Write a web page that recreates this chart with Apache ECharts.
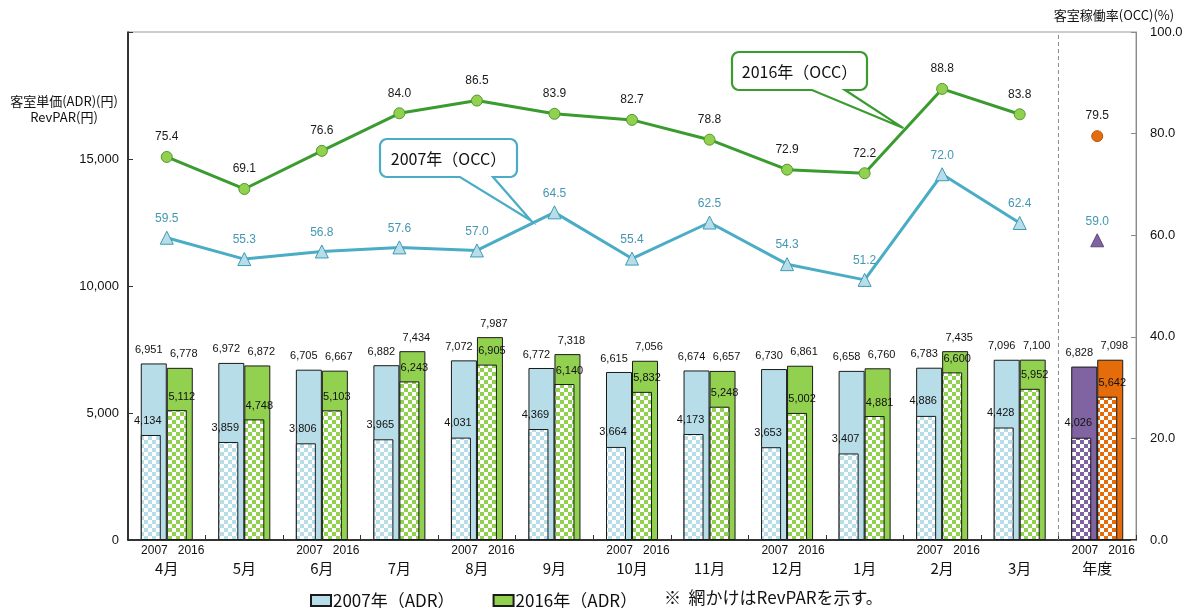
<!DOCTYPE html>
<html>
<head>
<meta charset="utf-8">
<script src="https://cdn.jsdelivr.net/npm/echarts@6/dist/echarts.min.js"></script>
<style>
  html, body { margin: 0; padding: 0; background: #fff; }
  #chart { width: 1190px; height: 608px; }
</style>
</head>
<body>
<div id="chart"></div>
<script>
// Months of the fiscal year plus the annual total
const categories = ['4月','5月','6月','7月','8月','9月','10月','11月','12月','1月','2月','3月','年度'];
// Categories that carry the small "2007 2016" tag under the bars
const yearTagged = [true,false,true,false,true,false,true,false,true,false,true,false,true];

// Average daily rate (yen)
const adr2007 = [6951, 6972, 6705, 6882, 7072, 6772, 6615, 6674, 6730, 6658, 6783, 7096, 6828];
const adr2016 = [6778, 6872, 6667, 7434, 7987, 7318, 7056, 6657, 6861, 6760, 7435, 7100, 7098];
// Revenue per available room (yen)
const revpar2007 = [4134, 3859, 3806, 3965, 4031, 4369, 3664, 4173, 3653, 3407, 4886, 4428, 4026];
const revpar2016 = [5112, 4748, 5103, 6243, 6905, 6140, 5832, 5248, 5002, 4881, 6600, 5952, 5642];
// Occupancy rate (%) by month, and for the whole year
const occ2007 = [59.5, 55.3, 56.8, 57.6, 57.0, 64.5, 55.4, 62.5, 54.3, 51.2, 72.0, 62.4];
const occ2016 = [75.4, 69.1, 76.6, 84.0, 86.5, 83.9, 82.7, 78.8, 72.9, 72.2, 88.8, 83.8];
const occ2007Year = 59.0;
const occ2016Year = 79.5;

const NUM_FONT = "'Liberation Sans', Arial, sans-serif";
const JP_FONT = "'Noto Sans CJK JP', 'Noto Sans', sans-serif";

const C = {
  blue: '#b7dde8', green: '#92d050', purple: '#8064a2', orange: '#e46c0a',
  line07: '#4bacc6', line16: '#3a9b2e', text07: '#4597b3', border: '#1a1a1a'
};

// Checkerboard fill used for RevPAR bars
function checker(color) {
  const c = document.createElement('canvas');
  c.width = 8; c.height = 8;
  const g = c.getContext('2d');
  g.fillStyle = '#ffffff'; g.fillRect(0, 0, 8, 8);
  g.fillStyle = color; g.fillRect(0, 0, 4, 4); g.fillRect(4, 4, 4, 4);
  return { image: c, repeat: 'repeat' };
}

const fmtYen = v => Number(v).toLocaleString('en-US');
const last = categories.length - 1;

function withYearColor(arr, yearColor, pattern) {
  return arr.map((v, i) => i === last
    ? { value: v, itemStyle: { color: pattern ? checker(yearColor) : yearColor } }
    : v);
}

const barLabel = (dx, dist) => ({
  show: true, position: 'top', distance: dist, offset: [dx, 0],
  fontFamily: NUM_FONT, fontSize: 11, color: '#111', formatter: p => fmtYen(p.value)
});

const monthsOnly = arr => arr.concat(['-']);

const chart = echarts.init(document.getElementById('chart'), null, { renderer: 'canvas' });

chart.setOption({
  animation: false,
  backgroundColor: '#ffffff',
  grid: [
    { left: 128, right: 54, top: 32, bottom: 68, show: true, borderColor: '#9a9a9a', borderWidth: 1 },
    { left: 125, right: 57, top: 32, bottom: 68 }
  ],
  legend: {
    data: ['2007年（ADR）', '2016年（ADR）'],
    left: 305, top: 587, itemWidth: 20, itemHeight: 11, itemGap: 38,
    icon: 'rect',
    textStyle: { fontFamily: JP_FONT, fontSize: 17, color: '#111', padding: [0, 0, 0, -3] }
  },
  xAxis: [
    {
      type: 'category', gridIndex: 0, data: categories,
      axisLine: { lineStyle: { color: '#000', width: 1.5 } },
      axisTick: { show: true, inside: true, length: 5, interval: 0, lineStyle: { color: '#333' } },
      splitLine: { show: false },
      axisLabel: {
        interval: 0, margin: 4,
        formatter: (v, i) => (yearTagged[i] ? '{y|2007   2016}' : '{y| }') + '\n{m|' + v + '}',
        rich: {
          y: { fontFamily: NUM_FONT, fontSize: 12, color: '#111', lineHeight: 14, padding: [0, 0, 0, 12] },
          m: { fontFamily: JP_FONT, fontSize: 15, color: '#111', lineHeight: 20 }
        }
      }
    },
    {
      type: 'category', gridIndex: 1, data: categories, show: false
    }
  ],
  yAxis: [
    {
      type: 'value', gridIndex: 0, min: 0, max: 20000, interval: 5000, position: 'left',
      axisLine: { show: true, lineStyle: { color: '#000', width: 1.5 } },
      axisTick: { show: true, inside: true, length: 5, lineStyle: { color: '#333' } },
      splitLine: { show: false },
      axisLabel: {
        margin: 9, fontFamily: NUM_FONT, fontSize: 13, color: '#111',
        formatter: v => (v === 20000 ? '' : fmtYen(v))
      }
    },
    {
      type: 'value', gridIndex: 0, min: 0, max: 100, interval: 20, position: 'right',
      axisLine: { show: true, lineStyle: { color: '#8a8a8a', width: 1 } },
      axisTick: { show: true, inside: true, length: 5, lineStyle: { color: '#8a8a8a' } },
      splitLine: { show: false },
      axisLabel: { margin: 14, fontFamily: NUM_FONT, fontSize: 13, color: '#111', formatter: v => v.toFixed(1) }
    },
    {
      type: 'value', gridIndex: 1, min: 0, max: 20000, interval: 5000, show: false, splitLine: { show: false }
    }
  ],
  series: [
    {
      name: '2007年（ADR）', type: 'bar', xAxisIndex: 0, yAxisIndex: 0,
      barWidth: 26, barGap: 0,
      itemStyle: { color: C.blue, borderColor: C.border, borderWidth: 1 },
      label: barLabel(-5, 8),
      data: withYearColor(adr2007, C.purple, false)
    },
    {
      name: '2016年（ADR）', type: 'bar', xAxisIndex: 0, yAxisIndex: 0,
      barWidth: 26, barGap: 0,
      itemStyle: { color: C.green, borderColor: C.border, borderWidth: 1 },
      label: barLabel(4, 8),
      data: withYearColor(adr2016, C.orange, false)
    },
    {
      name: '2007年（RevPAR）', type: 'bar', xAxisIndex: 1, yAxisIndex: 2,
      barWidth: 20, barGap: '30%', z: 3,
      itemStyle: { color: checker(C.blue), borderColor: C.border, borderWidth: 1 },
      label: barLabel(-3, 9),
      data: withYearColor(revpar2007, C.purple, true)
    },
    {
      name: '2016年（RevPAR）', type: 'bar', xAxisIndex: 1, yAxisIndex: 2,
      barWidth: 20, barGap: '30%', z: 3,
      itemStyle: { color: checker(C.green), borderColor: C.border, borderWidth: 1 },
      label: barLabel(5, 8),
      data: withYearColor(revpar2016, C.orange, true)
    },
    {
      name: '2016年（OCC）', type: 'line', xAxisIndex: 0, yAxisIndex: 1, z: 5,
      data: monthsOnly(occ2016),
      lineStyle: { color: C.line16, width: 3 },
      symbol: 'circle', symbolSize: 11,
      itemStyle: { color: C.green, borderColor: '#4f9a2c', borderWidth: 1 },
      label: { show: true, position: 'top', distance: 8, fontFamily: NUM_FONT, fontSize: 12, color: '#1a1a1a',
               formatter: p => Number(p.value).toFixed(1) }
    },
    {
      name: '2007年（OCC）', type: 'line', xAxisIndex: 0, yAxisIndex: 1, z: 5,
      data: monthsOnly(occ2007),
      lineStyle: { color: C.line07, width: 3 },
      symbol: 'triangle', symbolSize: 13,
      itemStyle: { color: C.blue, borderColor: '#3d9ab6', borderWidth: 1 },
      label: { show: true, position: 'top', distance: 6, fontFamily: NUM_FONT, fontSize: 12, color: C.text07,
               formatter: p => Number(p.value).toFixed(1) }
    },
    {
      name: '2016年（OCC・年度）', type: 'scatter', xAxisIndex: 0, yAxisIndex: 1, z: 5,
      data: [[last, occ2016Year]],
      symbol: 'circle', symbolSize: 11,
      itemStyle: { color: C.orange, borderColor: '#b85a12', borderWidth: 1, opacity: 1 },
      label: { show: true, position: 'top', distance: 8, fontFamily: NUM_FONT, fontSize: 12, color: '#1a1a1a',
               formatter: p => Number(p.value[1]).toFixed(1) }
    },
    {
      name: '2007年（OCC・年度）', type: 'scatter', xAxisIndex: 0, yAxisIndex: 1, z: 5,
      data: [[last, occ2007Year]],
      symbol: 'triangle', symbolSize: 13,
      itemStyle: { color: C.purple, borderColor: '#5c4680', borderWidth: 1, opacity: 1 },
      label: { show: true, position: 'top', distance: 6, fontFamily: NUM_FONT, fontSize: 12, color: C.text07,
               formatter: p => Number(p.value[1]).toFixed(1) }
    }
  ]
});

// Outline of a rounded box with a wedge pointing at (tx, ty), as polygon points
function calloutPoints(x0, y0, x1, y1, r, b1, b2, tx, ty) {
  const pts = [];
  const arc = (cx, cy, a0, a1) => {
    for (let k = 0; k <= 6; k++) {
      const a = a0 + (a1 - a0) * k / 6;
      pts.push([cx + r * Math.cos(a), cy + r * Math.sin(a)]);
    }
  };
  const P = Math.PI;
  arc(x0 + r, y0 + r, P, 1.5 * P);          // top-left
  arc(x1 - r, y0 + r, 1.5 * P, 2 * P);      // top-right
  arc(x1 - r, y1 - r, 0, 0.5 * P);          // bottom-right
  pts.push([b2, y1], [tx, ty], [b1, y1]);   // wedge
  arc(x0 + r, y1 - r, 0.5 * P, P);          // bottom-left
  return pts;
}

function pointOnLine(values, i, t) {
  const a = chart.convertToPixel({ xAxisIndex: 0, yAxisIndex: 1 }, [i, values[i]]);
  const b = chart.convertToPixel({ xAxisIndex: 0, yAxisIndex: 1 }, [i + 1, values[i + 1]]);
  return [a[0] + (b[0] - a[0]) * t, a[1] + (b[1] - a[1]) * t];
}

const tip16 = pointOnLine(occ2016, 9, 0.5);
const tip07 = pointOnLine(occ2007, 4, 0.7);

function callout(box, base, tip, color, text) {
  return [
    {
      type: 'polygon', z: 20,
      shape: { points: calloutPoints(box[0], box[1], box[2], box[3], 7, base[0], base[1], tip[0], tip[1] - 3) },
      style: { fill: '#ffffff', stroke: color, lineWidth: 2.2, lineJoin: 'miter' }
    },
    {
      type: 'text', z: 21,
      style: {
        x: (box[0] + box[2]) / 2, y: (box[1] + box[3]) / 2 + 1,
        text: text, align: 'center', verticalAlign: 'middle', textAlign: 'center', textVerticalAlign: 'middle',
        fontFamily: JP_FONT, fontSize: 16, fill: '#111'
      }
    }
  ];
}

const textEl = (x, y, text, size, align) => ({
  type: 'text', z: 20,
  style: {
    x: x, y: y, text: text, align: align || 'center', verticalAlign: 'middle',
    textAlign: align || 'center', textVerticalAlign: 'middle',
    fontFamily: JP_FONT, fontSize: size, fill: '#111'
  }
});

// Dashed divider between the monthly block and the annual column
const divX = (chart.convertToPixel({ xAxisIndex: 0 }, last - 1) + chart.convertToPixel({ xAxisIndex: 0 }, last)) / 2;
const plotTop = chart.convertToPixel({ yAxisIndex: 0 }, 20000);
const plotBottom = chart.convertToPixel({ yAxisIndex: 0 }, 0);

chart.setOption({
  graphic: [].concat(
    [{
      type: 'line', z: 1,
      shape: { x1: divX, y1: plotTop + 3, x2: divX, y2: plotBottom },
      style: { stroke: '#8a8a8a', lineWidth: 1, lineDash: [4, 3] }
    }],
    callout([732, 52, 867, 90], [812, 845], tip16, C.line16, '2016年（OCC）'),
    callout([380, 139, 517, 177], [460, 493], tip07, C.line07, '2007年（OCC）'),
    [
      textEl(64, 101, '客室単価(ADR)(円)', 13),
      textEl(64, 117, 'RevPAR(円)', 13),
      textEl(1114, 15, '客室稼働率(OCC)(%)', 13),
      textEl(664, 598, '※  網かけはRevPARを示す。', 17, 'left')
    ]
  )
});
</script>
</body>
</html>
